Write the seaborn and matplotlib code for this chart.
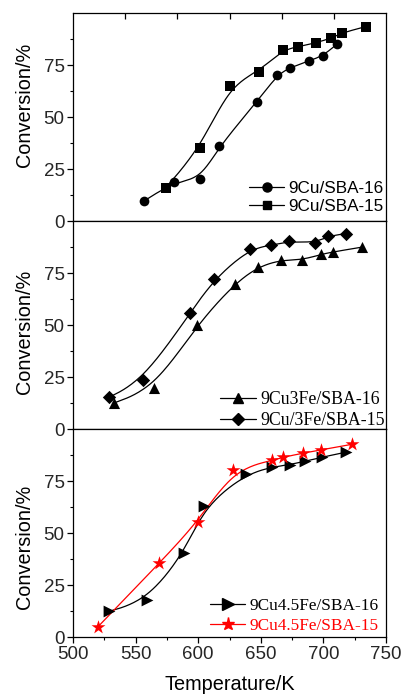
import numpy as np
import pandas as pd
import matplotlib
matplotlib.use("Agg")
import matplotlib.pyplot as plt
from matplotlib.lines import Line2D
from matplotlib.ticker import MultipleLocator, FixedLocator
import seaborn as sns

sns.set_theme(style="white")
plt.rcParams['font.family'] = ['Liberation Sans', 'DejaVu Sans']

# ---------------- data ----------------
# Panel 1
t_cu16 = [568, 597, 622, 640, 676, 696, 708, 726, 740, 753]
c_cu16 = [9.6, 18.8, 20.1, 35.9, 57.1, 70.4, 73.7, 76.9, 79.5, 85.1]
t_cu15 = [589, 622, 650, 678, 701, 716, 733, 747, 758, 781]
c_cu15 = [16.1, 35.1, 65.1, 71.8, 82.3, 83.8, 85.7, 87.8, 90.5, 93.5]
# Panel 2
t_cu3fe16 = [533, 565, 599, 629, 648, 666, 683, 698, 708, 731]
c_cu3fe16 = [12.7, 19.9, 50.2, 70.0, 78.2, 81.4, 81.4, 84.1, 85.3, 87.6]
t_cu3fe15 = [528.5, 556, 593.5, 613, 641, 658, 672.5, 693, 703.5, 718]
c_cu3fe15 = [15.3, 23.6, 55.9, 72.4, 86.8, 88.4, 90.4, 89.6, 92.8, 94.1]
# Panel 3
t_cu45fe16 = [529, 559, 589, 605, 638, 659, 673, 685, 699, 718]
c_cu45fe16 = [12.5, 17.8, 40.7, 63.1, 78.5, 81.8, 83.0, 84.6, 86.6, 89.0]
t_cu45fe15 = [520, 569, 600, 628, 659, 668, 683.5, 698, 723]
c_cu45fe15 = [5.1, 35.7, 55.6, 80.6, 85.0, 86.6, 88.5, 90.1, 92.8]

labels1 = ["9Cu/SBA-16", "9Cu/SBA-15"]
labels2 = ["9Cu3Fe/SBA-16", "9Cu/3Fe/SBA-15"]
labels3 = ["9Cu4.5Fe/SBA-16", "9Cu4.5Fe/SBA-15"]
yticks = [0, 25, 50, 75]


def bspline(x, y, n=25):
    P = np.column_stack([np.asarray(x, float), np.asarray(y, float)])
    P = np.vstack([P[0], P[0], P, P[-1], P[-1]])
    t = np.linspace(0, 1, n, endpoint=False)[:, None]
    B0 = (1 - t) ** 3 / 6
    B1 = (3 * t ** 3 - 6 * t ** 2 + 4) / 6
    B2 = (-3 * t ** 3 + 3 * t ** 2 + 3 * t + 1) / 6
    B3 = t ** 3 / 6
    out = []
    for i in range(len(P) - 3):
        out.append(B0 * P[i] + B1 * P[i + 1] + B2 * P[i + 2] + B3 * P[i + 3])
    out.append(P[-1][None, :])
    out = np.vstack(out)
    return pd.DataFrame({"T": out[:, 0], "C": out[:, 1]})


fig = plt.figure(figsize=(4.04, 6.95), dpi=100)
W, H = 404, 695
left = 73 / W
width = 313 / W
ph = 208 / H
ax1 = fig.add_axes([left, (H - 221) / H, width, ph])
ax2 = fig.add_axes([left, (H - 429.3) / H, width, ph])
ax3 = fig.add_axes([left, (H - 637.3) / H, width, ph])

series = [
    (ax1, t_cu16, c_cu16, "o", 7.0, "black"),
    (ax1, t_cu15, c_cu15, "s", 6.8, "black"),
    (ax2, t_cu3fe16, c_cu3fe16, "^", 8.0, "black"),
    (ax2, t_cu3fe15, c_cu3fe15, "D", 6.8, "black"),
    (ax3, t_cu45fe16, c_cu45fe16, ">", 8.5, "black"),
    (ax3, t_cu45fe15, c_cu45fe15, "*", 10.5, "red"),
]
for ax, t, c, m, ms, col in series:
    sp = bspline(t, c)
    sns.lineplot(data=sp, x="T", y="C", sort=False, estimator=None, ax=ax,
                 color=col, lw=0.9, legend=False)
    df = pd.DataFrame({"T": t, "C": c})
    sns.scatterplot(data=df, x="T", y="C", ax=ax, marker=m, s=ms ** 2,
                    color=col, edgecolor=col, linewidth=0, legend=False, zorder=3)

tickfs = 13.5
for ax in (ax1, ax2, ax3):
    ax.set_ylim(0, 100)
    ax.yaxis.set_major_locator(FixedLocator(yticks))
    ax.yaxis.set_minor_locator(FixedLocator([12.5, 37.5, 62.5, 87.5]))
    ax.tick_params(axis='y', which='major', direction='out', length=4, width=0.9,
                   labelsize=tickfs, left=True, right=False, color='black', pad=2)
    ax.tick_params(axis='y', which='minor', direction='out', length=2.2, width=0.8,
                   left=True, right=False, color='black')
    ax.set_ylabel("Conversion/%", fontsize=14.3, color='black')
    for s in ax.spines.values():
        s.set_color('black')
        s.set_linewidth(0.9)
    ax.set_xlabel("")

# panel 1: own x-scale
ax1.set_xlim(500, 800)
ax1.xaxis.set_major_locator(FixedLocator([550, 600, 650, 700, 750]))
ax1.tick_params(axis='x', which='major', direction='out', length=4, width=0.9,
                bottom=True, top=False, labelbottom=False, color='black')
sec = ax1.secondary_xaxis('top')
sec.xaxis.set_major_locator(FixedLocator([550, 600, 650, 700, 750]))
sec.tick_params(axis='x', direction='in', length=4, width=0.9, labeltop=False, color='black')
sec.spines['top'].set_visible(False)

# panel 2
ax2.set_xlim(500, 750)
ax2.xaxis.set_major_locator(FixedLocator([550, 600, 650, 700]))
ax2.tick_params(axis='x', which='major', direction='out', length=4, width=0.9,
                bottom=True, top=False, labelbottom=False, color='black')

# panel 3
ax3.set_xlim(500, 750)
ax3.xaxis.set_major_locator(MultipleLocator(50))
ax3.xaxis.set_minor_locator(MultipleLocator(25))
ax3.tick_params(axis='x', which='major', direction='out', length=4, width=0.9,
                bottom=True, top=False, labelsize=tickfs, color='black', pad=2)
ax3.tick_params(axis='x', which='minor', direction='out', length=2.2, width=0.8,
                bottom=True, top=False, color='black')
ax3.set_xlabel("Temperature/K", fontsize=14.3, color='black', labelpad=9)

# y-label positions
for ax, yc in ((ax1, 0.56), (ax2, 0.47), (ax3, 0.435)):
    ax.yaxis.set_label_coords(-0.125, yc)


def make_legend(ax, labels, markers, sizes, colors, anchor, family, fs):
    handles = [Line2D([0], [0], color=c, lw=0.9, marker=m, markersize=s,
                      markerfacecolor=c, markeredgecolor=c)
               for m, s, c in zip(markers, sizes, colors)]
    leg = ax.legend(handles, labels, loc='upper left', bbox_to_anchor=anchor,
                    frameon=False, borderpad=0, handlelength=2.05,
                    handletextpad=0.25, labelspacing=0.22,
                    prop={'family': family, 'size': fs})
    for txt, c in zip(leg.get_texts(), colors):
        txt.set_color(c)
    return leg


make_legend(ax1, labels1, ["o", "s"], [6.5, 6.0], ["black", "black"],
            (0.535, 0.235), ['Liberation Sans', 'DejaVu Sans'], 12.3)
make_legend(ax2, labels2, ["^", "D"], [7.5, 6.3], ["black", "black"],
            (0.44, 0.225), ['Liberation Serif', 'DejaVu Serif'], 12.8)
make_legend(ax3, labels3, [">", "*"], [8.0, 9.5], ["black", "red"],
            (0.41, 0.23), ['Liberation Serif', 'DejaVu Serif'], 12.4)

fig.savefig("out.png", dpi=100)
